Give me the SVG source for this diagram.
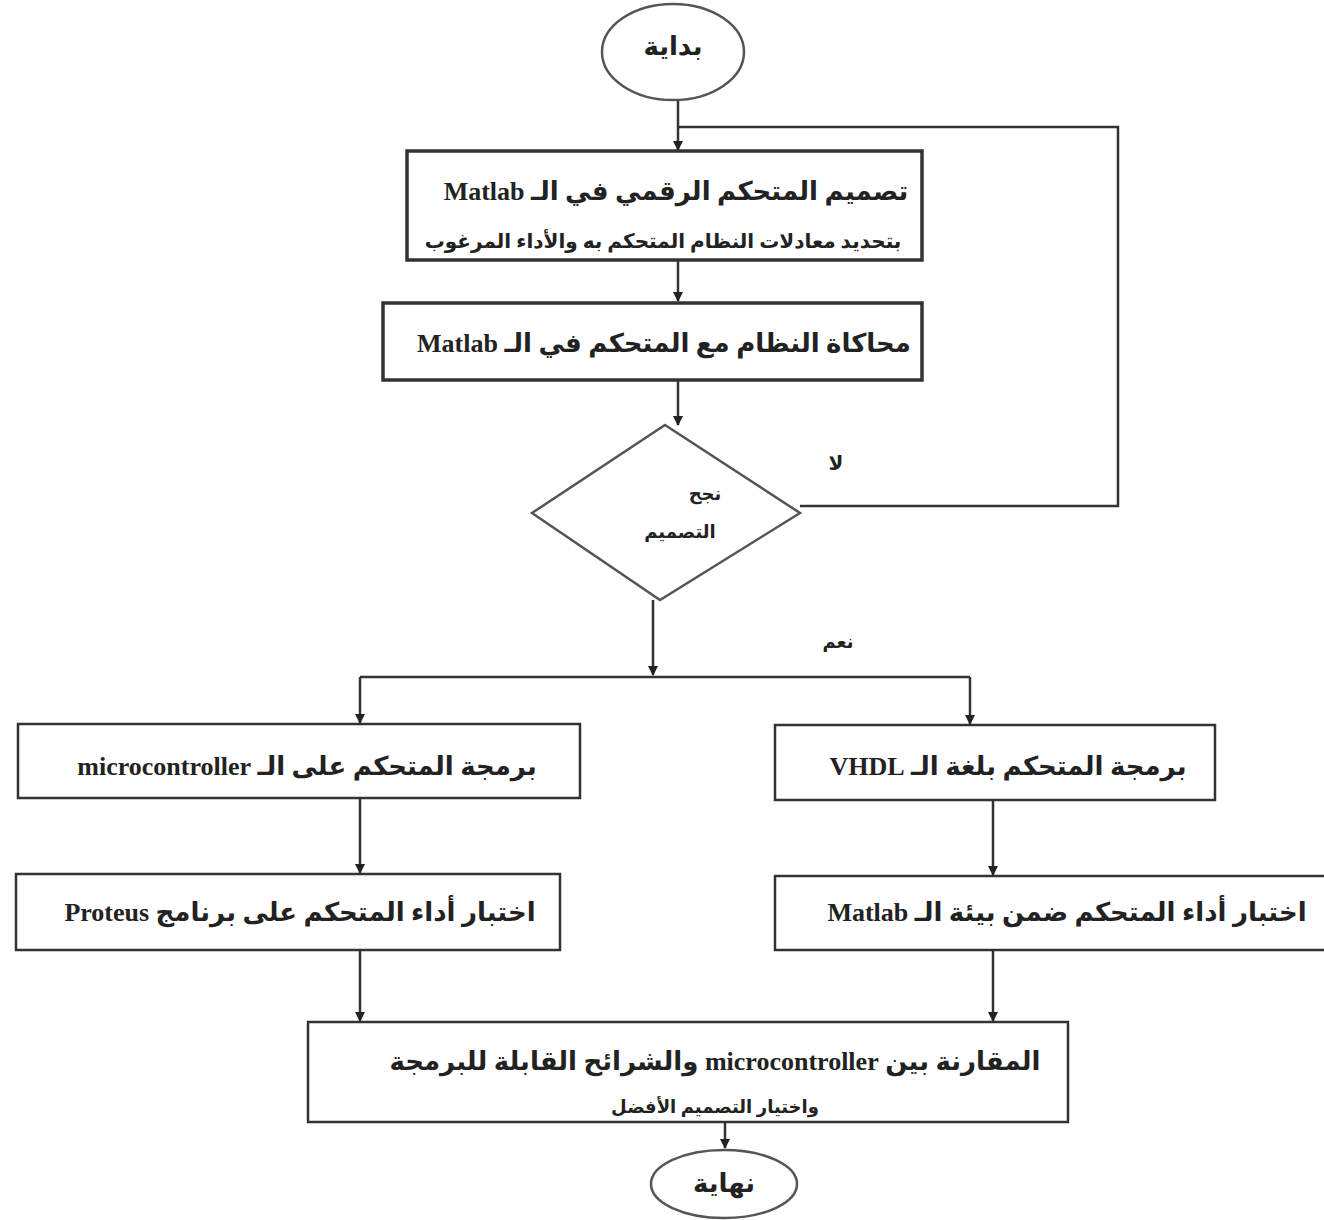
<svg xmlns="http://www.w3.org/2000/svg" width="1324" height="1220" viewBox="0 0 1324 1220">
<style>
.box{fill:#fff;stroke:#333;stroke-width:2.5}
.thick{fill:#fff;stroke:#333;stroke-width:3.5}
.term{fill:#fff;stroke:#555;stroke-width:2.5}
.ln{fill:none;stroke:#333;stroke-width:2.5}
.t{font-family:"Liberation Serif","DejaVu Sans",serif;fill:#222;text-anchor:middle;direction:rtl;font-weight:bold}
.big{font-size:26px}
.sm{font-size:18px}
.mid{font-size:20px}
</style>
<defs>
<marker id="ah" markerWidth="10" markerHeight="10" refX="9" refY="5" orient="auto" markerUnits="userSpaceOnUse">
<path d="M0,0 L10,5 L0,10 z" fill="#222"/>
</marker>
</defs>
<rect width="1324" height="1220" fill="#fff"/>
<g id="connectors">
<path class="ln" d="M678,100 V150" marker-end="url(#ah)"/>
<path class="ln" d="M800,506 H1118 V127 H678"/>
<path class="ln" d="M678,260 V301" marker-end="url(#ah)"/>
<path class="ln" d="M678,380 V425" marker-end="url(#ah)"/>
<path class="ln" d="M653,600 V675" marker-end="url(#ah)"/>
<path class="ln" d="M360,677 H970"/>
<path class="ln" d="M360,677 V723" marker-end="url(#ah)"/>
<path class="ln" d="M970,677 V724" marker-end="url(#ah)"/>
<path class="ln" d="M360,798 V873" marker-end="url(#ah)"/>
<path class="ln" d="M993,800 V875" marker-end="url(#ah)"/>
<path class="ln" d="M360,950 V1021" marker-end="url(#ah)"/>
<path class="ln" d="M993,950 V1021" marker-end="url(#ah)"/>
<path class="ln" d="M725,1122 V1148" marker-end="url(#ah)"/>
<text class="t mid" x="836" y="470">لا</text>
<text class="t sm" x="838" y="648">نعم</text>
</g>
<g id="start">
<ellipse class="term" cx="673" cy="52" rx="71" ry="48"/>
<text class="t big" x="673" y="55">بداية</text>
</g>
<g id="design">
<rect class="thick" x="407" y="151" width="515" height="109"/>
<text class="t big" x="676" y="200">تصميم المتحكم الرقمي في الـ Matlab</text>
<text class="t mid" x="663" y="248">بتحديد معادلات النظام المتحكم به والأداء المرغوب</text>
</g>
<g id="simulate">
<rect class="thick" x="383" y="303" width="539" height="77"/>
<text class="t big" x="664" y="352">محاكاة النظام مع المتحكم في الـ Matlab</text>
</g>
<g id="decision">
<path class="box" d="M665,425 L800,513 L660,600 L532,513 Z" style="stroke:#555"/>
<text class="t sm" x="705" y="500">نجح</text>
<text class="t sm" x="680" y="538">التصميم</text>
</g>
<g id="prog-mc">
<rect class="box" x="18" y="724" width="562" height="74"/>
<text class="t big" x="307" y="775">برمجة المتحكم على الـ microcontroller</text>
</g>
<g id="prog-vhdl">
<rect class="box" x="775" y="725" width="440" height="75"/>
<text class="t big" x="1008" y="775">برمجة المتحكم بلغة الـ VHDL</text>
</g>
<g id="test-proteus">
<rect class="box" x="16" y="874" width="544" height="76"/>
<text class="t big" x="300" y="921">اختبار أداء المتحكم على برنامج Proteus</text>
</g>
<g id="test-matlab">
<rect class="box" x="775" y="876" width="552" height="74"/>
<text class="t big" x="1067" y="921">اختبار أداء المتحكم ضمن بيئة الـ Matlab</text>
</g>
<g id="compare">
<rect class="box" x="308" y="1022" width="760" height="100"/>
<text class="t big" x="715" y="1070">المقارنة بين  microcontroller  والشرائح القابلة للبرمجة</text>
<text class="t sm" x="715" y="1113">واختيار التصميم الأفضل</text>
</g>
<g id="end">
<ellipse class="term" cx="724" cy="1184" rx="73" ry="34"/>
<text class="t big" x="724" y="1192">نهاية</text>
</g>
</svg>
